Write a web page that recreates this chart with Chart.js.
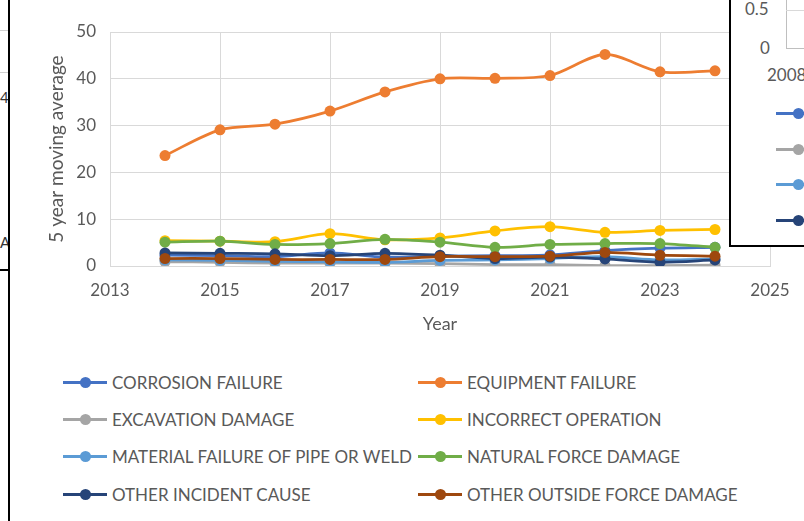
<!DOCTYPE html>
<html>
<head>
<meta charset="utf-8">
<script src="https://cdn.jsdelivr.net/npm/chart.js@4.4.1/dist/chart.umd.min.js"></script>
<style>
  html, body { margin: 0; padding: 0; background: #fff; }
  body { width: 804px; height: 521px; position: relative; overflow: hidden;
         font-family: Lato, "Open Sans", sans-serif; color: #595959; }
  #wrap { position: absolute; left: 0; top: 0; width: 804px; height: 345px; }
  #frame { position: absolute; left: 8px; top: 0; width: 2px; height: 521px; background: #000; }
  #sheet { position: absolute; left: 0; top: 0; width: 8px; height: 521px; overflow: hidden; font-size: 15px; color: #333; }
  #sheet .h { position: absolute; left: 0; width: 8px; height: 1px; background: #d0d0d0; }
  #sheet span { position: absolute; left: 0; }
  #legend { position: absolute; left: 63px; top: 364px; display: grid;
            grid-template-columns: 355px 355px; grid-auto-rows: 37.2px; }
  .item { display: flex; align-items: center; font-size: 17px; white-space: nowrap; }
  .mark { position: relative; width: 44px; height: 3px; margin-right: 5px; flex: none; }
  .mark i { position: absolute; left: 16.5px; top: -4px; width: 11px; height: 11px; border-radius: 50%; }
  #inset { position: absolute; left: 729px; top: -2px; width: 90px; height: 247px;
           border-left: 2px solid #000; border-bottom: 2px solid #000; background: #fff; overflow: hidden; }
  #inset .t { position: absolute; font-size: 17px; line-height: 20px; }
  #inset .ax { position: absolute; background: #bfbfbf; }
  #insetLegend { position: absolute; left: 45px; top: 98px; display: grid; grid-auto-rows: 35.5px; }
</style>
</head>
<body>
<div id="sheet">
  <div class="h" style="top:30px"></div>
  <div class="h" style="top:72px"></div>
  <span style="top:88px">4</span>
  <span style="top:233px">A</span>
  <div class="h" style="top:269px; height:2px; background:#000"></div>
</div>
<div id="frame"></div>
<div id="wrap"><canvas id="chart" width="804" height="345"></canvas></div>
<div id="legend"></div>
<div id="inset">
  <div class="t" style="left:14px; top:1px">0.5</div>
  <div class="t" style="left:29px; top:40px">0</div>
  <div class="ax" style="left:55px; top:0; width:1px; height:50px"></div>
  <div class="ax" style="left:55px; top:12px; width:40px; height:1px; background:#d9d9d9"></div>
  <div class="ax" style="left:55px; top:50px; width:40px; height:1px"></div>
  <div class="t" style="left:36px; top:67px">2008</div>
  <div id="insetLegend"></div>
</div>

<script>
const years = [2014, 2015, 2016, 2017, 2018, 2019, 2020, 2021, 2022, 2023, 2024];

const corrosionFailure   = [2.3, 2.2, 2.0, 2.8, 1.9, 2.1, 2.2, 2.4, 3.3, 3.8, 4.0];
const equipmentFailure   = [23.6, 29.1, 30.3, 33.1, 37.2, 40.0, 40.1, 40.7, 45.2, 41.5, 41.7];
const excavationDamage   = [0.9, 0.8, 0.6, 0.6, 0.6, 0.5, 0.3, 0.3, 0.1, 0.1, 0.2];
const incorrectOperation = [5.4, 5.3, 5.2, 6.9, 5.6, 6.0, 7.5, 8.4, 7.2, 7.6, 7.8];
const materialFailure    = [1.3, 1.2, 1.0, 0.9, 0.8, 1.2, 1.3, 1.6, 2.0, 1.3, 1.5];
const naturalForce       = [5.1, 5.3, 4.6, 4.8, 5.7, 5.1, 4.0, 4.6, 4.8, 4.8, 4.0];
const otherIncident      = [2.8, 2.7, 2.6, 2.2, 2.7, 2.3, 1.6, 1.9, 1.5, 0.8, 1.3];
const otherOutsideForce  = [1.6, 1.6, 1.4, 1.4, 1.4, 2.0, 2.0, 2.1, 2.9, 2.3, 2.1];

const seriesNames = [
  "CORROSION FAILURE", "EQUIPMENT FAILURE", "EXCAVATION DAMAGE", "INCORRECT OPERATION",
  "MATERIAL FAILURE OF PIPE OR WELD", "NATURAL FORCE DAMAGE", "OTHER INCIDENT CAUSE",
  "OTHER OUTSIDE FORCE DAMAGE"
];
const seriesValues = [
  corrosionFailure, equipmentFailure, excavationDamage, incorrectOperation,
  materialFailure, naturalForce, otherIncident, otherOutsideForce
];
const seriesColors = ["#4472C4", "#ED7D31", "#A5A5A5", "#FFC000", "#5B9BD5", "#70AD47", "#264478", "#9E480E"];

const xTicks = [2013, 2015, 2017, 2019, 2021, 2023, 2025];
const yTicks = [0, 10, 20, 30, 40, 50];

const font = "Lato, 'Open Sans', sans-serif";
const textColor = "#595959";
const gridColor = "#D9D9D9";

const datasets = seriesNames.map((name, i) => ({
  label: name,
  data: years.map((yr, j) => ({ x: yr, y: seriesValues[i][j] })),
  borderColor: seriesColors[i],
  backgroundColor: seriesColors[i],
  pointBackgroundColor: seriesColors[i],
  pointBorderColor: seriesColors[i],
  borderWidth: 2.75,
  pointRadius: 5.5,
  pointBorderWidth: 0,
  tension: 0.3,
  fill: false,
  order: -i   // later series painted on top, like Excel
}));

const chart = new Chart(document.getElementById("chart").getContext("2d"), {
  type: "line",
  data: { datasets: datasets },
  options: {
    responsive: false,
    animation: false,
    devicePixelRatio: 1,
    layout: { padding: { top: 32, right: 34, bottom: 0, left: 45 } },
    plugins: { legend: { display: false }, tooltip: { enabled: false } },
    scales: {
      x: {
        type: "linear",
        min: 2013,
        max: 2025,
        afterBuildTicks: scale => { scale.ticks = xTicks.map(v => ({ value: v })) },
        afterFit: scale => { scale.height = 79 },
        ticks: { color: textColor, font: { family: font, size: 17 }, padding: 14,
                 callback: v => String(v) },
        grid: { color: gridColor, lineWidth: 1, drawTicks: false },
        border: { color: gridColor },
        title: { display: true, text: "Year", color: textColor,
                 font: { family: font, size: 18 }, padding: { top: 0, bottom: 10 } }
      },
      y: {
        min: 0,
        max: 50,
        afterBuildTicks: scale => { scale.ticks = yTicks.map(v => ({ value: v })) },
        afterFit: scale => { scale.width = 65 },
        ticks: { color: textColor, font: { family: font, size: 17 }, padding: 14 },
        grid: { color: gridColor, lineWidth: 1, drawTicks: false },
        border: { display: false },
        title: { display: true, text: "5 year moving average", color: textColor,
                 font: { family: font, size: 19 }, padding: { top: 0, bottom: 0 } }
      }
    }
  }
});

function legendItem(i) {
  const item = document.createElement("div");
  item.className = "item";
  const mark = document.createElement("span");
  mark.className = "mark";
  mark.style.background = seriesColors[i];
  const dot = document.createElement("i");
  dot.style.background = seriesColors[i];
  mark.appendChild(dot);
  item.appendChild(mark);
  item.appendChild(document.createTextNode(seriesNames[i]));
  return item;
}

const legend = document.getElementById("legend");
chart.data.datasets.forEach((ds, i) => legend.appendChild(legendItem(i)));

// the overlapping window on the right shows the left legend column of another chart
const insetLegend = document.getElementById("insetLegend");
[0, 2, 4, 6].forEach(i => insetLegend.appendChild(legendItem(i)));
</script>
</body>
</html>
